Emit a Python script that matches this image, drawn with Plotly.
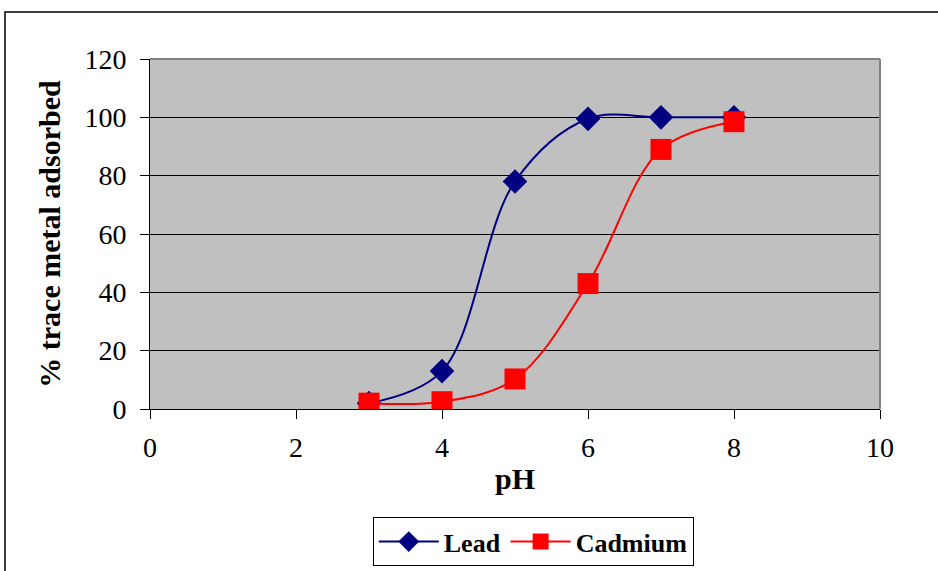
import plotly.graph_objects as go

ph = [3, 4, 5, 6, 7, 8]
lead = [2, 13, 78, 99.5, 100, 100]
cadmium = [2, 2.5, 10.3, 43, 89, 98.5]

x_ticks = [0, 2, 4, 6, 8, 10]
y_ticks = [0, 20, 40, 60, 80, 100, 120]

FONT = "Liberation Serif, Times New Roman, serif"

fig = go.Figure()
fig.add_trace(go.Scatter(
    x=ph, y=lead, name="Lead", mode="lines+markers",
    line=dict(color="#000080", width=2, shape="spline", smoothing=1.0),
    marker=dict(symbol="diamond", size=19, color="#000080"),
))
fig.add_trace(go.Scatter(
    x=ph, y=cadmium, name="Cadmium", mode="lines+markers",
    line=dict(color="#FF0000", width=2, shape="spline", smoothing=1.0),
    marker=dict(symbol="square", size=21, color="#FF0000"),
))

fig.update_layout(
    width=938, height=571,
    margin=dict(l=150, r=58, t=59, b=162, autoexpand=False),
    paper_bgcolor="white",
    plot_bgcolor="#C0C0C0",
    font=dict(family=FONT, size=22, color="black"),
    showlegend=True,
    legend=dict(
        orientation="h", x=0.525, xanchor="center", y=-0.309, yanchor="top",
        bordercolor="black", borderwidth=1, bgcolor="white",
        font=dict(family=FONT, size=26, color="black", weight="bold"),
        itemwidth=60,
    ),
)
fig.update_xaxes(
    range=[0, 10], tickvals=x_ticks, ticktext=[str(v) for v in x_ticks],
    showgrid=False, zeroline=False,
    showline=True, linecolor="black", linewidth=1,
    ticks="outside", ticklen=9, tickcolor="black",
    ticklabelstandoff=4,
    tickfont=dict(family=FONT, size=28),
    title=dict(text="pH", font=dict(family=FONT, size=30, weight="bold"), standoff=6),
)
fig.update_yaxes(
    range=[0, 120], tickvals=y_ticks, ticktext=[str(v) for v in y_ticks],
    showgrid=True, gridcolor="black", gridwidth=1, zeroline=False,
    showline=True, linecolor="black", linewidth=1,
    ticks="outside", ticklen=9, tickcolor="black",
    ticklabelstandoff=8,
    tickfont=dict(family=FONT, size=28),
    title=dict(text="% trace metal adsorbed", font=dict(family=FONT, size=30, weight="bold"), standoff=14),
)

# plot area top/right border (gray) and outer chart border
fig.add_shape(type="line", xref="paper", yref="paper", x0=0, x1=1, y0=1, y1=1,
              line=dict(color="#808080", width=2))
fig.add_shape(type="line", xref="paper", yref="paper", x0=1, x1=1, y0=0, y1=1,
              line=dict(color="#808080", width=2))
fig.add_shape(type="rect", xref="paper", yref="paper",
              x0=(5 - 150) / 730, x1=1.2, y0=-0.6, y1=(409 - 12) / 350,
              line=dict(color="black", width=1.5), layer="below")

fig.write_html("out.html")
